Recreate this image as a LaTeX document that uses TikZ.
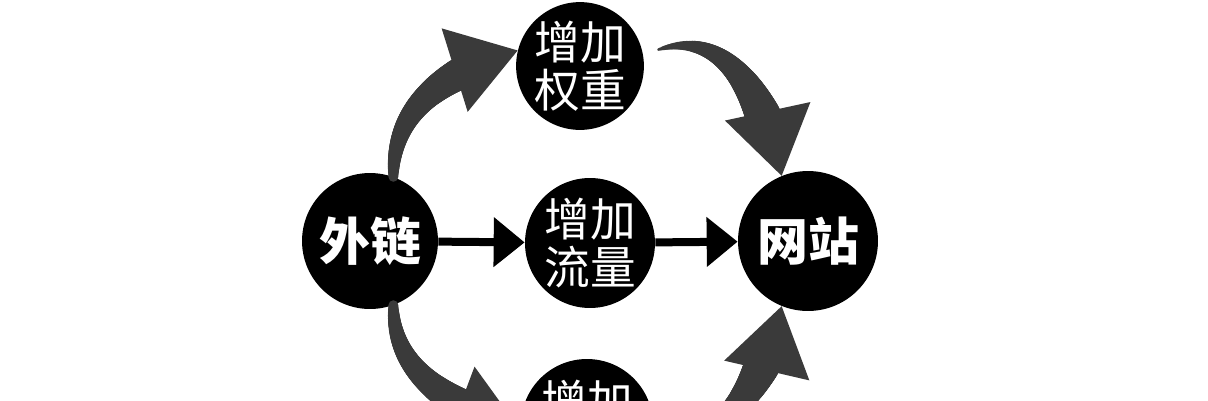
\documentclass[tikz,border=0pt]{standalone}
\usepackage{fontspec}
\usepackage{xcolor}
\usepackage{tikz}
\usetikzlibrary{arrows.meta, positioning, calc, decorations.markings}
\newfontfamily\cjk{Noto Sans CJK SC}
\definecolor{curve-grey}{RGB}{58, 58, 58}

\begin{document}
\begin{tikzpicture}[x=0.02cm, y=-0.02cm,
        ball/.style={circle, fill=black, inner sep=0pt,
                     align=center, text=white},
        soft/.style={font=\cjk\fontsize{26}{27}\selectfont},
        hard/.style={font=\cjk\bfseries\fontsize{29}{32}\selectfont},
        arr/.style={-{Triangle[width=0.96cm, length=0.62cm]},
                    line width=0.16cm, color=black},
        curvearr/.style={-{Triangle[width=1.74cm, length=1.32cm]},
                     line width=0.04cm, color=curve-grey},
        % shaft grows from radius #1 to #2 (cm) up to the head
        taper/.style 2 args={postaction={decorate, decoration={markings,
            mark=between positions 0 and -1.25cm step 0.8pt with {
              \pgfmathsetmacro\rr{#1+(#2-#1)*min(1,
                \pgfkeysvalueof{/pgf/decoration/mark info/distance from start}
                /(\pgfdecoratedpathlength-35.5))}
              \fill[curve-grey] (0,0) circle[radius=\rr cm];}}}}
      ]
        \clip (0,0) rectangle (1208,400);
        \fill[white] (0,0) rectangle (1208,400);
        \node[ball, hard, minimum size=2.72cm] (wl) at (370,241) {外链};
        \node[ball, soft, minimum size=2.48cm] (wq) at (580,66) {增加\\权重};
        \node[ball, soft, minimum size=2.6cm] (ll) at (590,243) {增加\\流量};
        \node[ball, hard, minimum size=2.8cm] (wz) at (808,241) {网站};
        \node[ball, soft, minimum size=2.64cm] (bt) at (587,425)
              {增加\\\phantom{增加}};
        % straight middle row
        \draw[arr] (wl) -- (ll);
        \draw[arr] (ll) -- (wz);
        % curved upper and lower routes
        \draw[curvearr, taper={0.1}{0.32}] (wl.70) .. controls (393,100)
              and (455,70) .. (wq.166);
        \draw[curvearr, taper={0.03}{0.36}] ($(wq.13)+(16,-2)$)
              .. controls (720,30) and (762,85) .. (wz.112);
        \draw[curvearr, taper={0.1}{0.32}] (wl.-70) .. controls (393,376)
              and (455,406) .. (bt.185);
        \draw[curvearr, taper={0.03}{0.36}] ($(bt.-5)+(6,0)$)
              .. controls (720,446) and (762,391) .. (wz.-112);
      \end{tikzpicture}
\end{document}
